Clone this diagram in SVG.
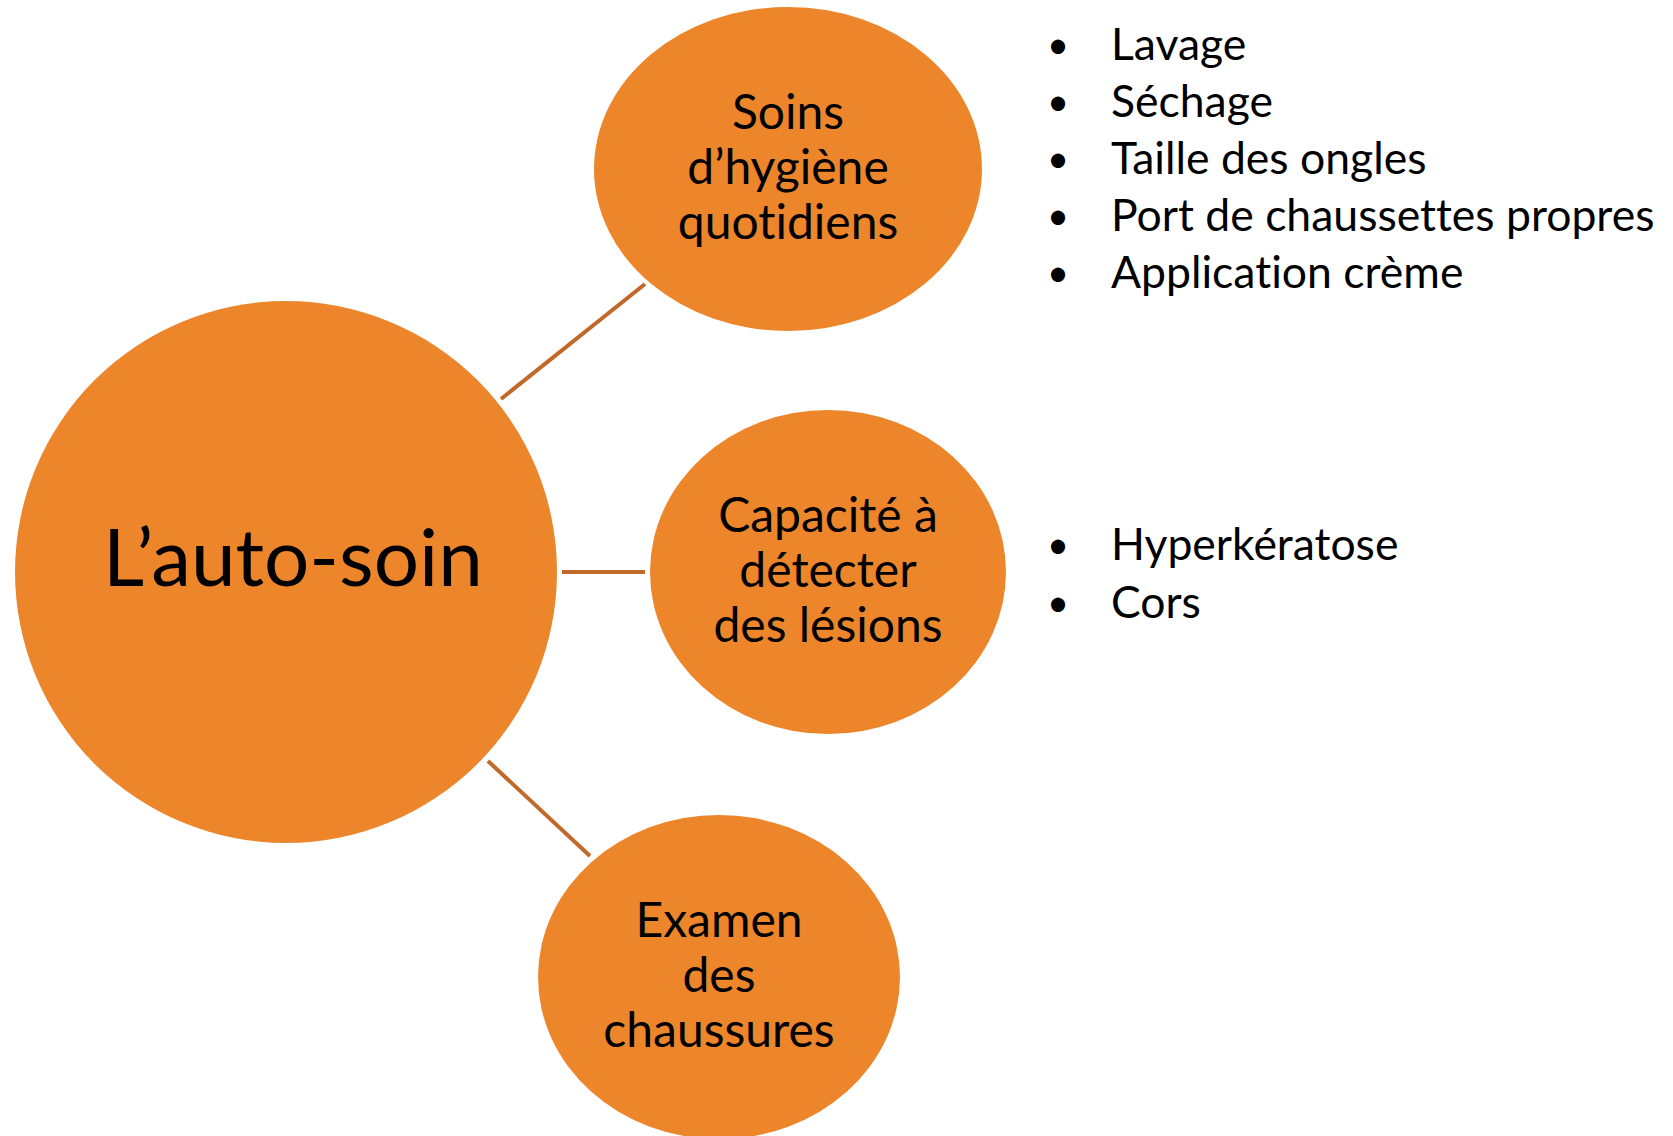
<svg xmlns="http://www.w3.org/2000/svg" width="1673" height="1136" viewBox="0 0 1673 1136">
<style>
.node{fill:#ED852B;}
.conn{stroke:#C0692A;stroke-width:4;fill:none;}
text{font-family:Lato,"Open Sans",sans-serif;fill:#000;font-variant-ligatures:none;font-feature-settings:"liga" 0,"clig" 0,"dlig" 0;}
.lbl{font-size:48px;text-anchor:middle;}
.main{font-size:80px;text-anchor:middle;}
.lst{font-size:44.5px;}
.bul{font-size:38px;text-anchor:middle;}
</style>
<rect width="1673" height="1136" fill="#fff"/>
<g id="connectors">
<line class="conn" x1="501" y1="399" x2="645" y2="284"/>
<line class="conn" x1="562" y1="572" x2="645" y2="572"/>
<line class="conn" x1="488" y1="761" x2="590" y2="856"/>
</g>
<g id="node-main">
<circle class="node" cx="286" cy="572" r="271"/>
<text class="main" x="293" y="586">L’auto-soin</text>
</g>
<g id="node-hygiene">
<ellipse class="node" cx="788" cy="169" rx="194" ry="162"/>
<text class="lbl" x="788" y="129">Soins</text>
<text class="lbl" x="788" y="184">d’hygiène</text>
<text class="lbl" x="788" y="239">quotidiens</text>
</g>
<g id="node-lesions">
<ellipse class="node" cx="828" cy="572" rx="178" ry="162"/>
<text class="lbl" x="828" y="532">Capacité à</text>
<text class="lbl" x="828" y="587">détecter</text>
<text class="lbl" x="828" y="642">des lésions</text>
</g>
<g id="node-chaussures">
<ellipse class="node" cx="719" cy="977" rx="181" ry="162"/>
<text class="lbl" x="719" y="937">Examen</text>
<text class="lbl" x="719" y="992">des</text>
<text class="lbl" x="719" y="1047">chaussures</text>
</g>
<g id="list-hygiene">
<text class="bul" x="1058" y="58">•</text><text class="lst" x="1111" y="60">Lavage</text>
<text class="bul" x="1058" y="115">•</text><text class="lst" x="1111" y="117">Séchage</text>
<text class="bul" x="1058" y="172">•</text><text class="lst" x="1111" y="174">Taille des ongles</text>
<text class="bul" x="1058" y="229">•</text><text class="lst" x="1111" y="231">Port de chaussettes propres</text>
<text class="bul" x="1058" y="286">•</text><text class="lst" x="1111" y="288">Application crème</text>
</g>
<g id="list-lesions">
<text class="bul" x="1058" y="558">•</text><text class="lst" x="1111" y="560">Hyperkératose</text>
<text class="bul" x="1058" y="616">•</text><text class="lst" x="1111" y="618">Cors</text>
</g>
</svg>
